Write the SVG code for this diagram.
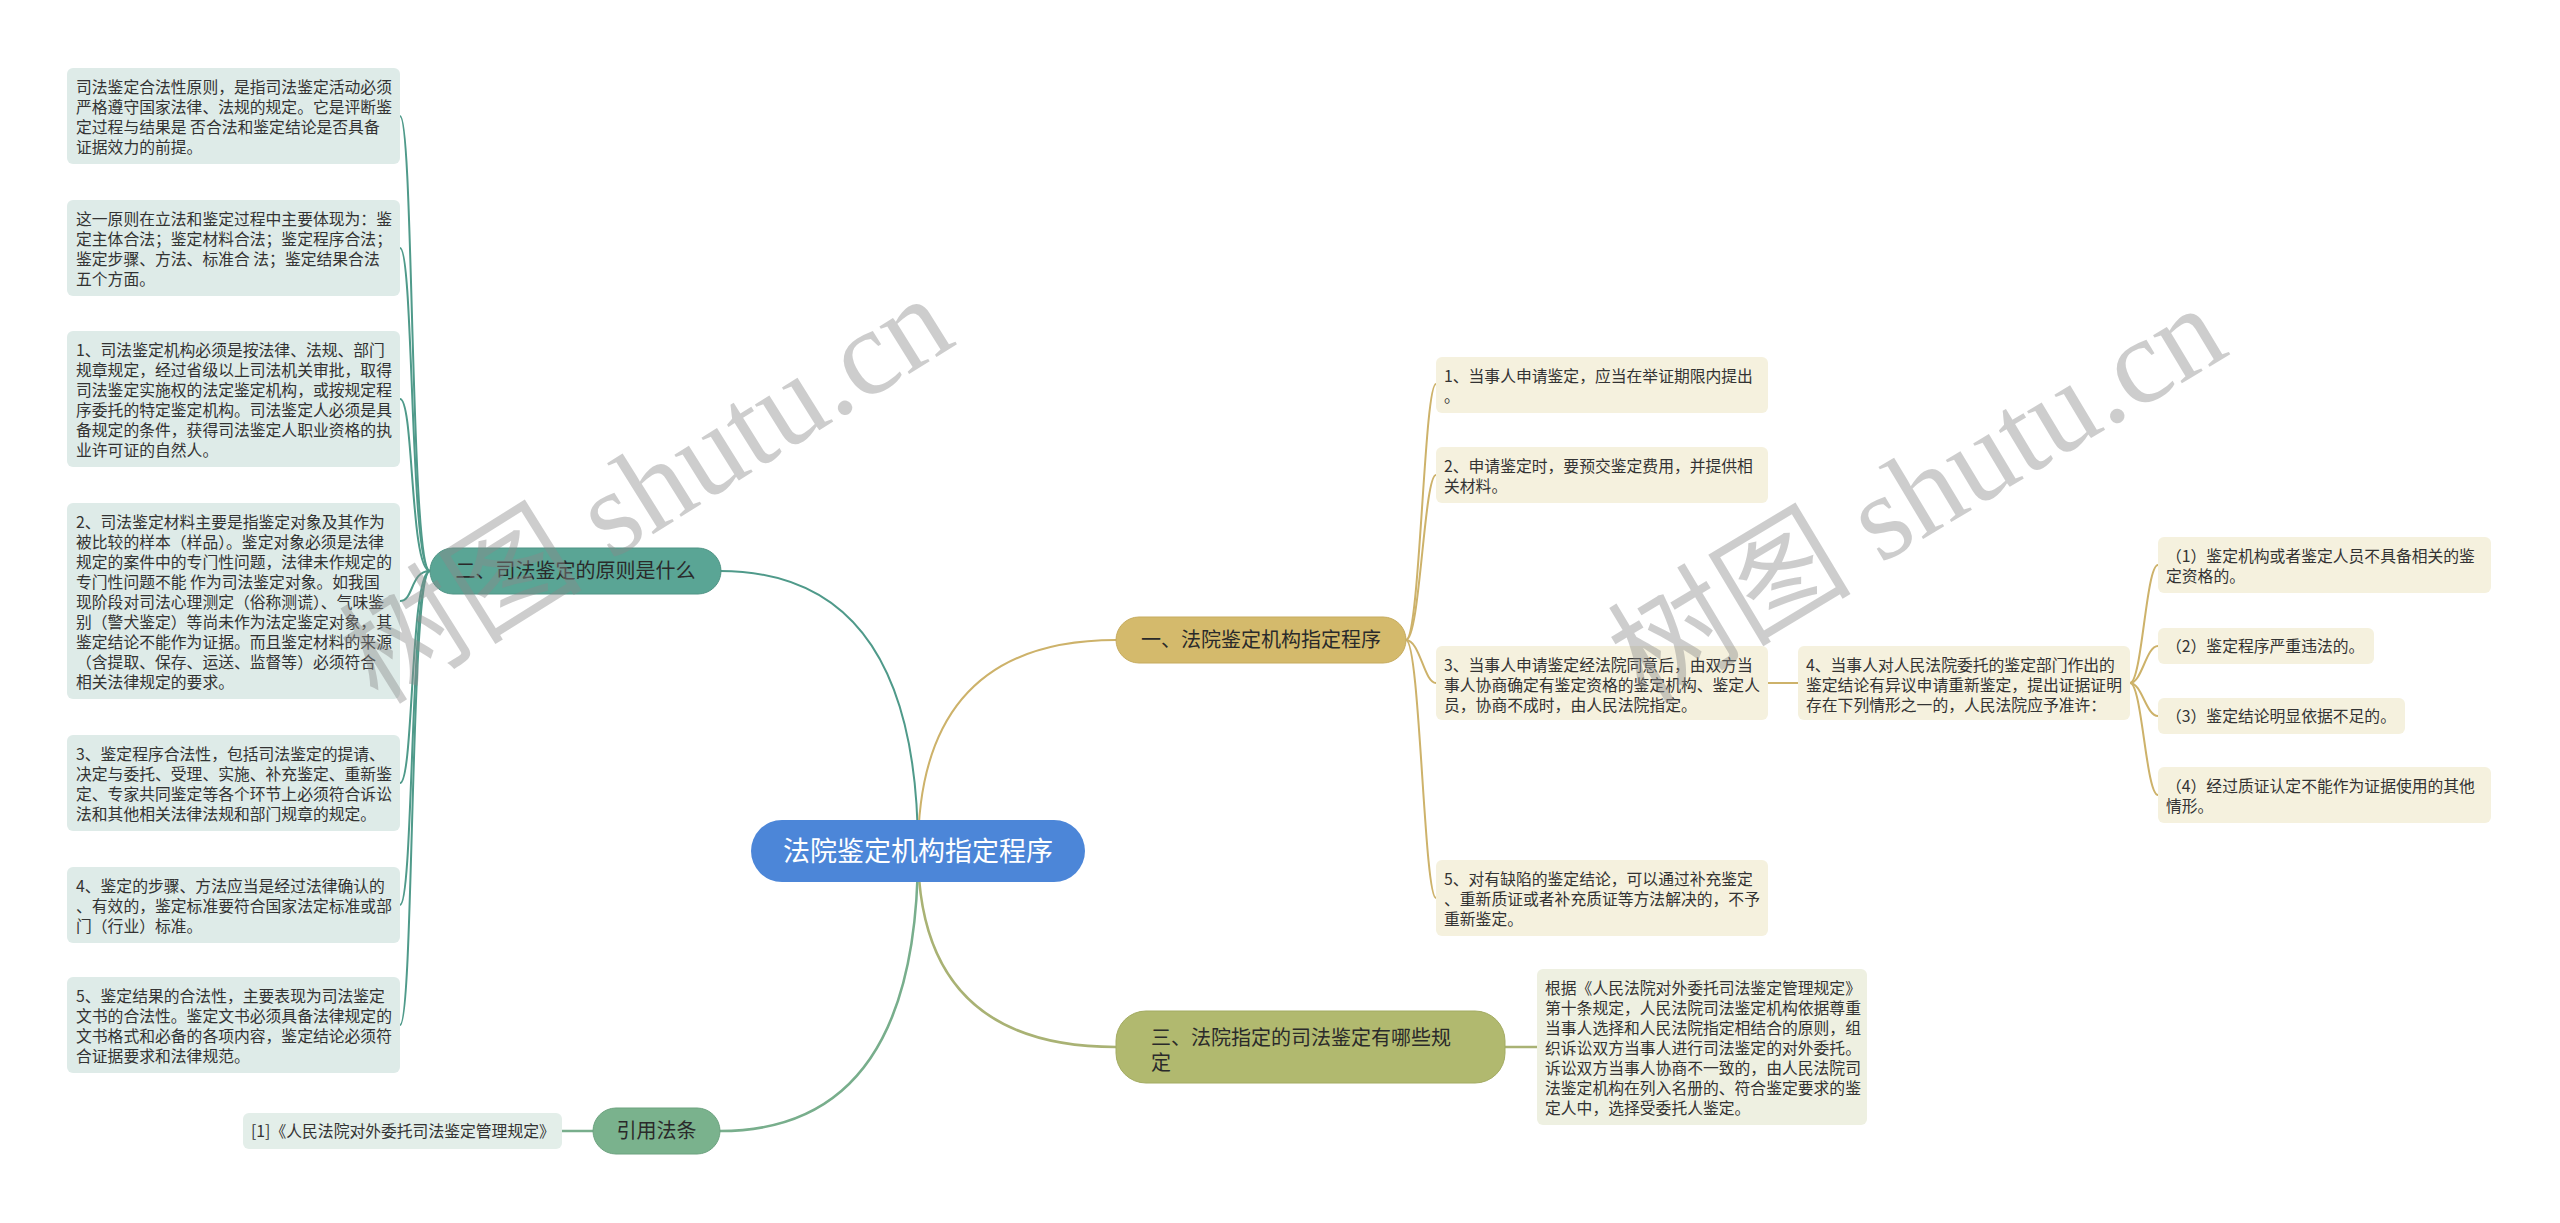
<svg xmlns="http://www.w3.org/2000/svg" width="2560" height="1223" viewBox="0 0 2560 1223">
<style>
.t{font-family:"Noto Sans CJK SC","Noto Sans",sans-serif;font-size:15.8px;fill:#333333}
.b{font-family:"Noto Sans CJK SC","Noto Sans",sans-serif;font-size:20px;fill:#2a2a2a}
.c{font-family:"Noto Sans CJK SC","Noto Sans",sans-serif;font-size:27px;fill:#ffffff}
.lt{fill:#deebe8}
.gd{fill:#f5f1de}
.ol{fill:#eef0e1}
.gr{fill:#e3eee9}
.teal{fill:none;stroke:#4f9a8a;stroke-width:2}
.gold{fill:none;stroke:#cdb26a;stroke-width:2}
.olv{fill:none;stroke:#a9b274;stroke-width:2.5}
.grn{fill:none;stroke:#78ae8c;stroke-width:2.5}
.wm{font-family:"Liberation Serif","Noto Sans CJK SC",serif;font-size:122px;fill:#8a8a8a;opacity:0.42}
</style>
<rect width="2560" height="1223" fill="#ffffff"/>
<g id="connectors">
<path class="teal" d="M918,851 Q918,571 720,571"/>
<path class="gold" d="M918,851 Q918,640 1116,640"/>
<path class="olv" d="M918,851 Q918,1047 1116,1047"/>
<path class="grn" d="M918,851 Q918,1131 720,1131"/>
<path class="teal" d="M430,571 C410,571 414,116 400,116"/>
<path class="teal" d="M430,571 C410,571 414,248 400,248"/>
<path class="teal" d="M430,571 C410,571 414,399 400,399"/>
<path class="teal" d="M430,571 C410,571 414,601 400,601"/>
<path class="teal" d="M430,571 C410,571 414,783 400,783"/>
<path class="teal" d="M430,571 C410,571 414,905 400,905"/>
<path class="teal" d="M430,571 C410,571 414,1025 400,1025"/>
<path class="gold" d="M1406,640 C1420,640 1424,384 1436,384"/>
<path class="gold" d="M1406,640 C1420,640 1424,475 1436,475"/>
<path class="gold" d="M1406,640 C1420,640 1424,683 1436,683"/>
<path class="gold" d="M1406,640 C1420,640 1424,898 1436,898"/>
<path class="gold" d="M1768,683 L1798,683"/>
<path class="gold" d="M2130,683 C2142,683 2146,565 2158,565"/>
<path class="gold" d="M2130,683 C2142,683 2146,646 2158,646"/>
<path class="gold" d="M2130,683 C2142,683 2146,716 2158,716"/>
<path class="gold" d="M2130,683 C2142,683 2146,795 2158,795"/>
<path class="olv" d="M1505,1047 L1537,1047"/>
<path class="grn" d="M593,1131 L562,1131"/>
</g>
<g id="root">
<rect x="751" y="820" width="334" height="62" rx="31" fill="#4c86d8"/>
<text class="c" x="918" y="861" text-anchor="middle">法院鉴定机构指定程序</text>
</g>
<g id="branch2">
<rect x="430" y="548" width="291" height="46" rx="23" fill="#5aa595" stroke="#4f9485" stroke-width="1"/>
<text class="b" x="575.5" y="578" text-anchor="middle">二、司法鉴定的原则是什么</text>
</g>
<g id="branch1">
<rect x="1116" y="617" width="290" height="46" rx="23" fill="#d4ba6c" stroke="#c6ab5e" stroke-width="1"/>
<text class="b" x="1261" y="647" text-anchor="middle">一、法院鉴定机构指定程序</text>
</g>
<g id="branch3">
<rect x="1116" y="1011" width="389" height="72" rx="30" fill="#b1b96f" stroke="#a3ab62" stroke-width="1"/>
<text class="b" x="1151" y="1045">三、法院指定的司法鉴定有哪些规</text>
<text class="b" x="1151" y="1070">定</text>
</g>
<g id="branchref">
<rect x="593" y="1108" width="127" height="46" rx="23" fill="#7ab28d" stroke="#6ca27f" stroke-width="1"/>
<text class="b" x="656.5" y="1138" text-anchor="middle">引用法条</text>
</g>
<g id="L1">
<rect class="lt" x="67" y="68" width="333" height="96" rx="6"/>
<text class="t"><tspan x="76" y="92.5">司法鉴定合法性原则，是指司法鉴定活动必须</tspan><tspan x="76" y="112.5">严格遵守国家法律、法规的规定。它是评断鉴</tspan><tspan x="76" y="132.5">定过程与结果是 否合法和鉴定结论是否具备</tspan><tspan x="76" y="152.5">证据效力的前提。</tspan></text>
</g>
<g id="L2">
<rect class="lt" x="67" y="200" width="333" height="96" rx="6"/>
<text class="t"><tspan x="76" y="224.5">这一原则在立法和鉴定过程中主要体现为：鉴</tspan><tspan x="76" y="244.5">定主体合法；鉴定材料合法；鉴定程序合法；</tspan><tspan x="76" y="264.5">鉴定步骤、方法、标准合 法；鉴定结果合法</tspan><tspan x="76" y="284.5">五个方面。</tspan></text>
</g>
<g id="L3">
<rect class="lt" x="67" y="331" width="333" height="136" rx="6"/>
<text class="t"><tspan x="76" y="355.5">1、司法鉴定机构必须是按法律、法规、部门</tspan><tspan x="76" y="375.5">规章规定，经过省级以上司法机关审批，取得</tspan><tspan x="76" y="395.5">司法鉴定实施权的法定鉴定机构，或按规定程</tspan><tspan x="76" y="415.5">序委托的特定鉴定机构。司法鉴定人必须是具</tspan><tspan x="76" y="435.5">备规定的条件，获得司法鉴定人职业资格的执</tspan><tspan x="76" y="455.5">业许可证的自然人。</tspan></text>
</g>
<g id="L4">
<rect class="lt" x="67" y="503" width="333" height="196" rx="6"/>
<text class="t"><tspan x="76" y="527.5">2、司法鉴定材料主要是指鉴定对象及其作为</tspan><tspan x="76" y="547.5">被比较的样本（样品）。鉴定对象必须是法律</tspan><tspan x="76" y="567.5">规定的案件中的专门性问题，法律未作规定的</tspan><tspan x="76" y="587.5">专门性问题不能 作为司法鉴定对象。如我国</tspan><tspan x="76" y="607.5">现阶段对司法心理测定（俗称测谎）、气味鉴</tspan><tspan x="76" y="627.5">别（警犬鉴定）等尚未作为法定鉴定对象，其</tspan><tspan x="76" y="647.5">鉴定结论不能作为证据。而且鉴定材料的来源</tspan><tspan x="76" y="667.5">（含提取、保存、运送、监督等）必须符合</tspan><tspan x="76" y="687.5">相关法律规定的要求。</tspan></text>
</g>
<g id="L5">
<rect class="lt" x="67" y="735" width="333" height="96" rx="6"/>
<text class="t"><tspan x="76" y="759.5">3、鉴定程序合法性，包括司法鉴定的提请、</tspan><tspan x="76" y="779.5">决定与委托、受理、实施、补充鉴定、重新鉴</tspan><tspan x="76" y="799.5">定、专家共同鉴定等各个环节上必须符合诉讼</tspan><tspan x="76" y="819.5">法和其他相关法律法规和部门规章的规定。</tspan></text>
</g>
<g id="L6">
<rect class="lt" x="67" y="867" width="333" height="76" rx="6"/>
<text class="t"><tspan x="76" y="891.5">4、鉴定的步骤、方法应当是经过法律确认的</tspan><tspan x="76" y="911.5">、有效的，鉴定标准要符合国家法定标准或部</tspan><tspan x="76" y="931.5">门（行业）标准。</tspan></text>
</g>
<g id="L7">
<rect class="lt" x="67" y="977" width="333" height="96" rx="6"/>
<text class="t"><tspan x="76" y="1001.5">5、鉴定结果的合法性，主要表现为司法鉴定</tspan><tspan x="76" y="1021.5">文书的合法性。鉴定文书必须具备法律规定的</tspan><tspan x="76" y="1041.5">文书格式和必备的各项内容，鉴定结论必须符</tspan><tspan x="76" y="1061.5">合证据要求和法律规范。</tspan></text>
</g>
<g id="ref1">
<rect class="gr" x="243" y="1113" width="319" height="36" rx="6"/>
<text class="t" x="251" y="1137">[1]《人民法院对外委托司法鉴定管理规定》</text>
</g>
<g id="G1">
<rect class="gd" x="1436" y="357" width="332" height="56" rx="6"/>
<text class="t"><tspan x="1444" y="381.5">1、当事人申请鉴定，应当在举证期限内提出</tspan><tspan x="1444" y="401.5">。</tspan></text>
</g>
<g id="G2">
<rect class="gd" x="1436" y="447" width="332" height="56" rx="6"/>
<text class="t"><tspan x="1444" y="471.5">2、申请鉴定时，要预交鉴定费用，并提供相</tspan><tspan x="1444" y="491.5">关材料。</tspan></text>
</g>
<g id="G3">
<rect class="gd" x="1436" y="646" width="332" height="74" rx="6"/>
<text class="t"><tspan x="1444" y="670.5">3、当事人申请鉴定经法院同意后，由双方当</tspan><tspan x="1444" y="690.5">事人协商确定有鉴定资格的鉴定机构、鉴定人</tspan><tspan x="1444" y="710.5">员，协商不成时，由人民法院指定。</tspan></text>
</g>
<g id="G4">
<rect class="gd" x="1798" y="646" width="332" height="74" rx="6"/>
<text class="t"><tspan x="1806" y="670.5">4、当事人对人民法院委托的鉴定部门作出的</tspan><tspan x="1806" y="690.5">鉴定结论有异议申请重新鉴定，提出证据证明</tspan><tspan x="1806" y="710.5">存在下列情形之一的，人民法院应予准许：</tspan></text>
</g>
<g id="G5">
<rect class="gd" x="1436" y="860" width="332" height="76" rx="6"/>
<text class="t"><tspan x="1444" y="884.5">5、对有缺陷的鉴定结论，可以通过补充鉴定</tspan><tspan x="1444" y="904.5">、重新质证或者补充质证等方法解决的，不予</tspan><tspan x="1444" y="924.5">重新鉴定。</tspan></text>
</g>
<g id="C1">
<rect class="gd" x="2158" y="537" width="333" height="56" rx="6"/>
<text class="t"><tspan x="2166" y="561.5">（1）鉴定机构或者鉴定人员不具备相关的鉴</tspan><tspan x="2166" y="581.5">定资格的。</tspan></text>
</g>
<g id="C2">
<rect class="gd" x="2158" y="628" width="216" height="36" rx="6"/>
<text class="t" x="2166" y="652">（2）鉴定程序严重违法的。</text>
</g>
<g id="C3">
<rect class="gd" x="2158" y="698" width="247" height="36" rx="6"/>
<text class="t" x="2166" y="722">（3）鉴定结论明显依据不足的。</text>
</g>
<g id="C4">
<rect class="gd" x="2158" y="767" width="333" height="56" rx="6"/>
<text class="t"><tspan x="2166" y="791.5">（4）经过质证认定不能作为证据使用的其他</tspan><tspan x="2166" y="811.5">情形。</tspan></text>
</g>
<g id="T1">
<rect class="ol" x="1537" y="969" width="330" height="156" rx="6"/>
<text class="t"><tspan x="1545" y="993.5">根据《人民法院对外委托司法鉴定管理规定》</tspan><tspan x="1545" y="1013.5">第十条规定，人民法院司法鉴定机构依据尊重</tspan><tspan x="1545" y="1033.5">当事人选择和人民法院指定相结合的原则，组</tspan><tspan x="1545" y="1053.5">织诉讼双方当事人进行司法鉴定的对外委托。</tspan><tspan x="1545" y="1073.5">诉讼双方当事人协商不一致的，由人民法院司</tspan><tspan x="1545" y="1093.5">法鉴定机构在列入名册的、符合鉴定要求的鉴</tspan><tspan x="1545" y="1113.5">定人中，选择受委托人鉴定。</tspan></text>
</g>
<g id="watermark">
<text class="wm" x="378" y="706" transform="rotate(-32 378 706)">树图 shutu.cn</text>
<text class="wm" x="1645" y="706" transform="rotate(-31 1645 706)">树图 shutu.cn</text>
</g>
</svg>
